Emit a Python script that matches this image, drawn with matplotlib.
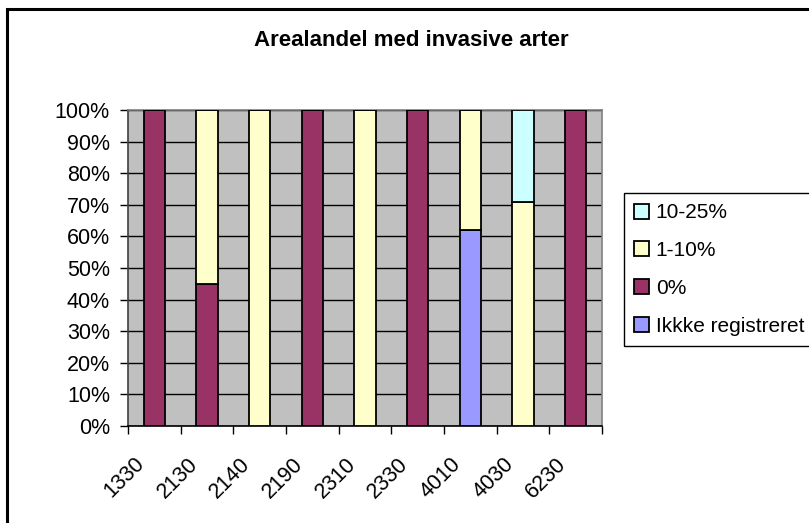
import matplotlib
matplotlib.use("Agg")
import matplotlib.pyplot as plt
from matplotlib.patches import Rectangle
import numpy as np

plt.rcParams['font.family'] = ['Liberation Sans', 'DejaVu Sans']

categories = ["1330", "2130", "2140", "2190", "2310", "2330", "4010", "4030", "6230"]
ikke_registreret = [0, 0, 0, 0, 0, 0, 62, 0, 0]
pct_0 = [100, 45, 0, 100, 0, 100, 0, 0, 100]
pct_1_10 = [0, 55, 100, 0, 100, 0, 38, 71, 0]
pct_10_25 = [0, 0, 0, 0, 0, 0, 0, 29, 0]

series = [
    ("Ikkke registreret", ikke_registreret, "#9999FF"),
    ("0%", pct_0, "#993366"),
    ("1-10%", pct_1_10, "#FFFFCC"),
    ("10-25%", pct_10_25, "#CCFFFF"),
]
y_ticks = [0, 10, 20, 30, 40, 50, 60, 70, 80, 90, 100]
y_labels = [f"{v}%" for v in y_ticks]

W, H = 809, 523
fig = plt.figure(figsize=(W / 100, H / 100), dpi=100)
fig.patch.set_facecolor("white")

# outer chart border
fig.add_artist(Rectangle((7.5 / W, -0.05), 1.2, 1 - 8.5 / H + 0.05, transform=fig.transFigure,
                         fill=False, edgecolor="black", linewidth=2.2))

ax = fig.add_axes([128 / W, 1 - 426 / H, (602 - 128) / W, (426 - 110) / H])
ax.set_facecolor("#C0C0C0")

x = np.arange(len(categories))
bottom = np.zeros(len(categories))
handles = {}
for name, vals, col in series:
    vals = np.array(vals, dtype=float)
    b = ax.bar(x, vals, bottom=bottom, width=0.4, color=col, edgecolor="black",
               linewidth=1.3, label=name, zorder=3)
    handles[name] = b
    bottom += vals

FS = 15.5
ax.set_xlim(-0.5, len(categories) - 0.5)
ax.set_ylim(0, 100)
ax.set_yticks(y_ticks)
ax.set_yticklabels(y_labels, fontsize=FS)
ax.yaxis.grid(True, color="black", linewidth=1.0, zorder=1)
ax.set_axisbelow(True)
ax.tick_params(axis="y", direction="out", length=6, width=1, pad=7, color="black")

ax.set_xticks(np.arange(-0.5, len(categories), 1.0))
ax.set_xticklabels([])
ax.tick_params(axis="x", direction="out", length=6, width=1, color="black")
for i, c in enumerate(categories):
    ax.text(i - 0.24, -0.11, c, transform=ax.get_xaxis_transform(), rotation=45,
            ha="right", va="center", rotation_mode="anchor", fontsize=FS)

for s in ["top", "right"]:
    ax.spines[s].set_color("#808080")
    ax.spines[s].set_linewidth(1.2)
ax.spines["left"].set_color("#404040")
ax.spines["left"].set_linewidth(1.2)
ax.spines["bottom"].set_color("black")
ax.spines["bottom"].set_linewidth(1.2)

fig.text(411 / W, 1 - 40 / H, "Arealandel med invasive arter", ha="center", va="center",
         fontsize=16, fontweight="bold")

order = ["10-25%", "1-10%", "0%", "Ikkke registreret"]
leg = fig.legend([handles[n] for n in order], order, loc="upper left",
                 bbox_to_anchor=(624 / W, 1 - 193 / H), fontsize=15,
                 frameon=True, fancybox=False, shadow=False, framealpha=1,
                 edgecolor="black", borderpad=0.5, labelspacing=0.9,
                 handlelength=0.72, handleheight=0.72, handletextpad=0.3,
                 borderaxespad=0)
leg.get_frame().set_linewidth(1.0)

fig.savefig("out.png", dpi=100)
